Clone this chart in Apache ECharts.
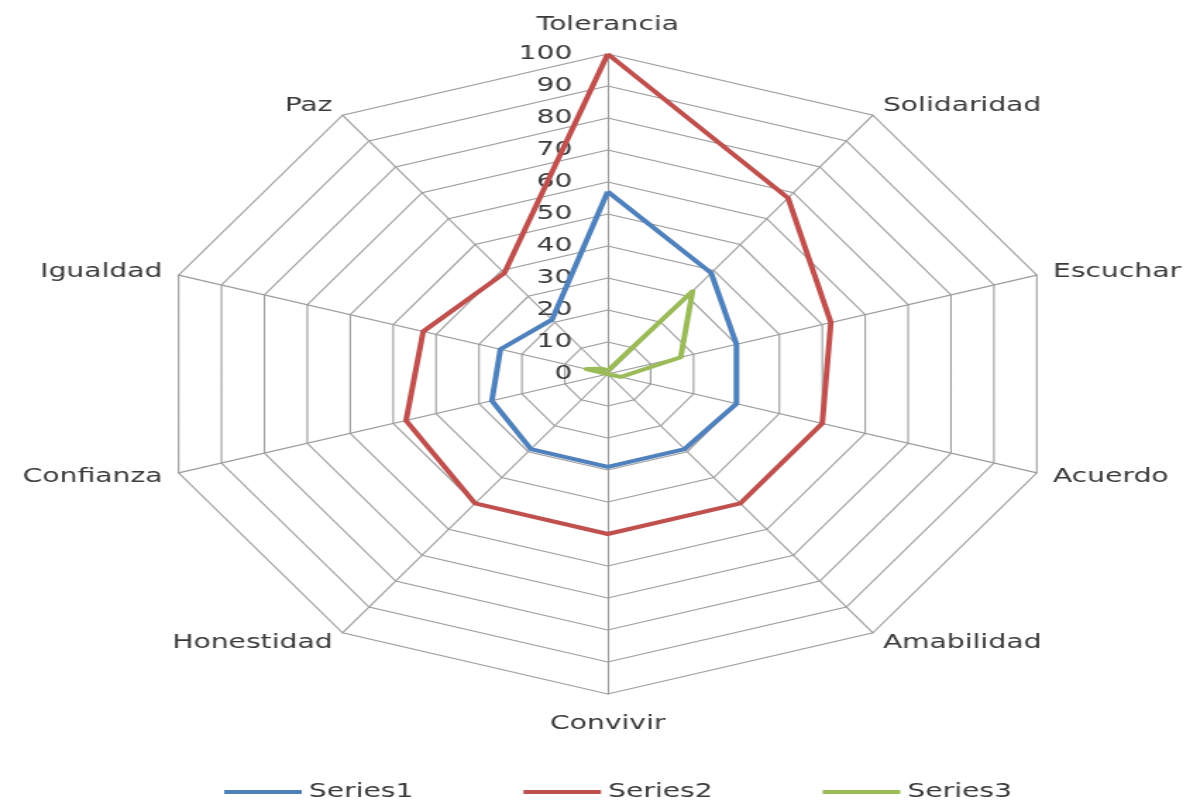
<!DOCTYPE html>
<html>
<head>
<meta charset="utf-8">
<script src="https://cdn.jsdelivr.net/npm/echarts@6/dist/echarts.min.js"></script>
<style>
html, body { margin: 0; padding: 0; background: #ffffff; overflow: hidden; }
#wrap { width: 1191px; height: 804px; overflow: hidden; }
#chart { width: 845px; height: 804px; transform: scaleX(1.41); transform-origin: 0 0; }
</style>
</head>
<body>
<div id="wrap"><div id="chart"></div></div>
<script>
// Categories listed clockwise starting at the top
const categories = ['Tolerancia', 'Solidaridad', 'Escuchar', 'Acuerdo', 'Amabilidad', 'Convivir', 'Honestidad', 'Confianza', 'Igualdad', 'Paz'];
const seriesNames = ['Series1', 'Series2', 'Series3'];
const series1 = [57, 39, 30, 30, 29, 29, 29, 27, 25, 21];
const series2 = [100, 68, 52, 50, 50, 50, 50, 47, 43, 39];
const series3 = [1, 32, 17, 3, 0, 0, 0, 0, 5, 2];
const axisMin = 0;
const axisMax = 100;
const axisSplits = 10;
const colors = ['#4F81BD', '#C0504D', '#9BBB59'];

const n = categories.length;
// ECharts lays indicators counter-clockwise; reorder so they read clockwise
const order = categories.map((_, i) => (n - i) % n);
const pick = arr => order.map(i => arr[i]);

const gapFor = { 'Tolerancia': 19, 'Convivir': 20 };
const font = 'DejaVu Sans';

const indicator = order.map((i, k) => ({
  name: categories[i],
  min: axisMin,
  max: axisMax,
  nameGap: gapFor[categories[i]] != null ? gapFor[categories[i]] : 12,
  axisLabel: { show: k === 0 }
}));

const allSeries = [series1, series2, series3];

const chart = echarts.init(document.getElementById('chart'));
chart.setOption({
  animation: false,
  backgroundColor: '#ffffff',
  legend: {
    data: seriesNames,
    left: 159,
    top: 782,
    padding: 0,
    icon: 'rect',
    itemWidth: 55,
    itemHeight: 4,
    itemGap: 78,
    textStyle: { fontFamily: font, fontSize: 20, color: '#3a3a3a' }
  },
  radar: {
    center: [431, 374],
    radius: 320,
    startAngle: 90,
    splitNumber: axisSplits,
    shape: 'polygon',
    nameGap: 12,
    axisName: { color: '#3a3a3a', fontFamily: font, fontSize: 20 },
    splitLine: { lineStyle: { color: '#9c9c9c', width: 1.1 } },
    splitArea: { show: false },
    axisLine: { lineStyle: { color: '#9c9c9c', width: 1.1 } },
    axisTick: { show: false },
    axisLabel: { show: false, color: '#3a3a3a', fontFamily: font, fontSize: 20, margin: 25 },
    indicator: indicator
  },
  series: allSeries.map((vals, s) => ({
    type: 'radar',
    name: seriesNames[s],
    symbol: 'none',
    z: 2 + s,
    lineStyle: { color: colors[s], width: 4 },
    itemStyle: { color: colors[s] },
    data: [{ name: seriesNames[s], value: pick(vals) }]
  }))
});
</script>
</body>
</html>
